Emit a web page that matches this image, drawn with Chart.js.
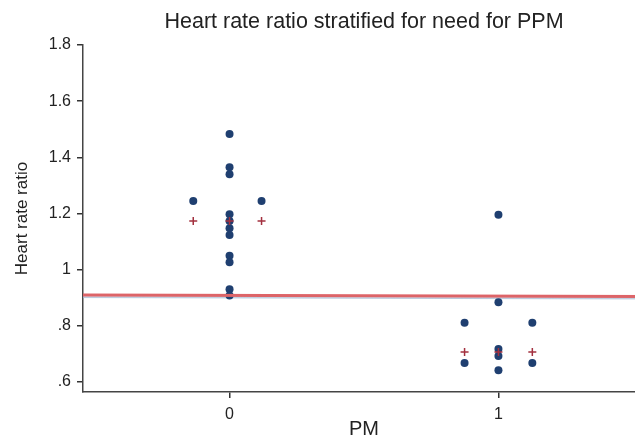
<!DOCTYPE html>
<html>
<head>
<meta charset="utf-8">
<script src="https://cdn.jsdelivr.net/npm/chart.js@4"></script>
<style>
  html, body { margin: 0; padding: 0; background: #fff; overflow: hidden; }
  /* the original figure is cropped on the right, so the canvas runs a little past the window */
  #wrap { width: 645px; height: 437px; }
</style>
</head>
<body>
<div id="wrap"><canvas id="c"></canvas></div>
<script>
// group 0 (no PPM)
const g0CenterX = 0;
const g0Center = [1.483, 1.364, 1.339, 1.197, 1.173, 1.147, 1.123, 1.049, 1.026, 0.930, 0.907];
const g0SideX = [-0.135, 0.119];
const g0Side = [1.244, 1.244];
// group 1 (PPM)
const g1CenterX = 1;
const g1Center = [1.195, 0.883, 0.717, 0.692, 0.641];
const g1LeftX = 0.874;
const g1Left = [0.810, 0.667];
const g1RightX = 1.126;
const g1Right = [0.810, 0.667];
// mean markers (+)
const meanX = [-0.135, 0, 0.119, 0.874, 1, 1.126];
const meanY = [1.173, 1.173, 1.173, 0.706, 0.706, 0.706];
// fitted line + band
const fitX = [-0.545, 1.545];
const fitY = [0.909, 0.904];
const bandLow = [0.900, 0.895];

const yTicks = [0.6, 0.8, 1.0, 1.2, 1.4, 1.6, 1.8];
const yTickLabels = [".6", ".8", "1", "1.2", "1.4", "1.6", "1.8"];
const xTicks = [0, 1];
const xTickLabels = ["0", "1"];

const dotColor = "#1f3f70";
const crossColor = "#a3303f";
const fontFam = "Liberation Sans, Arial, sans-serif";

const dots = [];
g0Center.forEach(v => dots.push({ x: g0CenterX, y: v }));
g0Side.forEach((v, i) => dots.push({ x: g0SideX[i], y: v }));
g1Center.forEach(v => dots.push({ x: g1CenterX, y: v }));
g1Left.forEach(v => dots.push({ x: g1LeftX, y: v }));
g1Right.forEach(v => dots.push({ x: g1RightX, y: v }));

const crosses = meanX.map((x, i) => ({ x: x, y: meanY[i] }));

new Chart(document.getElementById("c"), {
    type: "scatter",
    data: {
        datasets: [
            {
                data: fitX.map((x, i) => ({ x: x, y: bandLow[i] })),
                showLine: true, pointRadius: 0,
                borderColor: "rgba(165,185,210,0.7)", borderWidth: 1,
                backgroundColor: "rgba(170,190,215,0.55)",
                fill: "+1", order: 3
            },
            {
                data: fitX.map((x, i) => ({ x: x, y: fitY[i] })),
                showLine: true, pointRadius: 0,
                borderColor: "#dd6468", borderWidth: 3,
                fill: false, order: 1
            },
            {
                data: dots,
                pointRadius: 4, pointHoverRadius: 4,
                backgroundColor: dotColor, borderColor: dotColor, borderWidth: 0,
                order: 2
            },
            {
                data: crosses,
                pointStyle: "cross", pointRadius: 4, pointHoverRadius: 4,
                borderColor: crossColor, borderWidth: 1.5,
                order: 0
            }
        ]
    },
    options: {
        responsive: true,
        maintainAspectRatio: false,
        animation: false,
        events: [],
        layout: { padding: 0, autoPadding: false },
        plugins: {
            legend: { display: false },
            tooltip: { enabled: false },
            title: {
                display: true,
                fullSize: false,
                text: "Heart rate ratio stratified for need for PPM",
                color: "#222",
                font: { family: fontFam, size: 21.5, weight: "normal", lineHeight: 1.2 },
                padding: { top: 9, bottom: 10.2 }
            }
        },
        scales: {
            x: {
                type: "linear",
                min: -0.545, max: 1.545,
                afterBuildTicks: s => { s.ticks = xTicks.map(v => ({ value: v })); },
                afterFit: s => { s.height = 45; },
                border: { display: true, color: "#444", width: 1.5 },
                grid: { drawOnChartArea: false, drawTicks: true, tickLength: 6, color: "#333", lineWidth: 1.5 },
                ticks: {
                    color: "#222",
                    font: { family: fontFam, size: 16 },
                    padding: 7,
                    callback: v => xTickLabels[xTicks.indexOf(v)]
                },
                title: {
                    display: true, text: "PM", color: "#222",
                    font: { family: fontFam, size: 20, lineHeight: 0.8 },
                    padding: 0
                }
            },
            y: {
                min: 0.5635, max: 1.8,
                afterBuildTicks: s => { s.ticks = yTicks.map(v => ({ value: v })); },
                afterFit: s => { s.width = 83; },
                border: { display: true, color: "#444", width: 1.5 },
                grid: { drawOnChartArea: false, drawTicks: true, tickLength: 6, color: "#333", lineWidth: 1.5 },
                ticks: {
                    color: "#222",
                    font: { family: fontFam, size: 16 },
                    padding: 6,
                    callback: v => yTickLabels[yTicks.findIndex(t => Math.abs(t - v) < 1e-6)]
                },
                title: {
                    display: true, text: "Heart rate ratio", color: "#222",
                    font: { family: fontFam, size: 17, lineHeight: 1.2 },
                    padding: { top: 12, bottom: 0 }
                }
            }
        }
    }
});
</script>
</body>
</html>
